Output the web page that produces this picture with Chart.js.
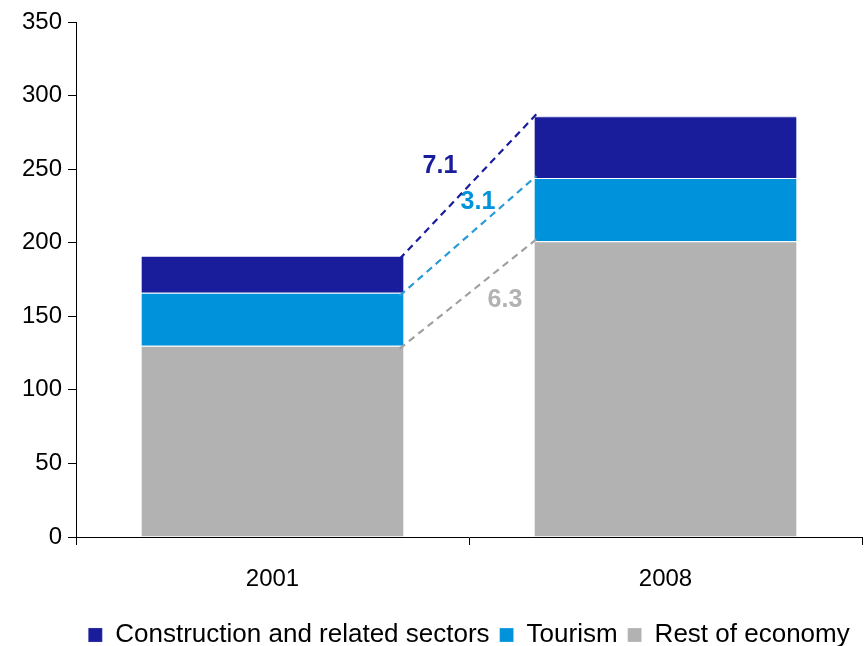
<!DOCTYPE html>
<html>
<head>
<meta charset="utf-8">
<script src="https://cdn.jsdelivr.net/npm/chart.js@4/dist/chart.umd.min.js"></script>
<style>
  html, body { margin: 0; padding: 0; background: #fff; }
  #wrap { width: 868px; height: 646px; position: relative; }
</style>
</head>
<body>
<div id="wrap"><canvas id="c" width="868" height="646"></canvas></div>
<script>
// Employment base by sector, stacked per year
const years = ['2001', '2008'];
const restOfEconomy = [130, 201];
const tourism = [36, 43];
const construction = [25, 42];
// Annual growth rates (%) between the two years
const growthRest = 6.3;
const growthTourism = 3.1;
const growthConstruction = 7.1;
const yTicks = [0, 50, 100, 150, 200, 250, 300, 350];

const COL_CONS = '#1a1d9b';
const COL_TOUR = '#0093dc';
const COL_REST = '#b2b2b2';
const FONT = '"Liberation Sans", Arial, sans-serif';

// Dashed connectors between the segment tops of the two bars, with growth labels
const connectorPlugin = {
  id: 'connectors',
  afterDatasetsDraw(chart) {
    const ctx = chart.ctx;
    const specs = [
      { ds: 0, color: '#a0a0a0', text: growthRest.toFixed(1), tcolor: '#b2b2b2', dx: 36, dy: 7 },
      { ds: 1, color: '#2a9ad6', text: growthTourism.toFixed(1), tcolor: COL_TOUR, dx: 9, dy: -33 },
      { ds: 2, color: COL_CONS, text: growthConstruction.toFixed(1), tcolor: COL_CONS, dx: -29, dy: -20 }
    ];
    specs.forEach(s => {
      const els = chart.getDatasetMeta(s.ds).data;
      const a = els[0], b = els[1];
      const x1 = a.x + a.width / 2, y1 = a.y;
      const x2 = b.x - b.width / 2, y2 = b.y;
      ctx.save();
      ctx.strokeStyle = s.color;
      ctx.lineWidth = 2.2;
      ctx.setLineDash([7, 5]);
      ctx.beginPath();
      ctx.moveTo(x1 - 4, y1 + 3);
      ctx.lineTo(x2 + 2, y2 - 2);
      ctx.stroke();
      ctx.setLineDash([]);
      ctx.fillStyle = s.tcolor;
      ctx.font = 'bold 25px ' + FONT;
      ctx.textAlign = 'center';
      ctx.textBaseline = 'middle';
      ctx.fillText(s.text, (x1 + x2) / 2 + s.dx, (y1 + y2) / 2 + s.dy);
      ctx.restore();
    });
  }
};

const segBorder = { top: 1, left: 0, right: 0, bottom: 0 };

new Chart(document.getElementById('c'), {
  type: 'bar',
  data: {
    labels: years,
    datasets: [
      { label: 'Rest of economy', data: restOfEconomy, backgroundColor: COL_REST,
        borderWidth: segBorder, borderColor: '#ffffff', borderSkipped: false },
      { label: 'Tourism', data: tourism, backgroundColor: COL_TOUR,
        borderWidth: segBorder, borderColor: '#ffffff', borderSkipped: false },
      { label: 'Construction and related sectors', data: construction, backgroundColor: COL_CONS,
        borderWidth: segBorder, borderColor: '#c8c8e8', borderSkipped: false }
    ]
  },
  options: {
    responsive: false,
    animation: false,
    datasets: { bar: { categoryPercentage: 0.667, barPercentage: 1.0 } },
    layout: { padding: { top: 22, right: 6, left: 0, bottom: -12 } },
    scales: {
      x: {
        stacked: true,
        grid: { drawOnChartArea: false, drawTicks: true, tickLength: 8, color: '#000', offset: true },
        border: { color: '#000', width: 1 },
        ticks: { color: '#000', font: { size: 24, family: FONT }, padding: 20 },
        afterFit(s) { s.height = 75; }
      },
      y: {
        stacked: true,
        min: 0,
        max: 350,
        afterBuildTicks(s) { s.ticks = yTicks.map(v => ({ value: v })); },
        grid: { drawOnChartArea: false, drawTicks: true, tickLength: 8, color: '#000' },
        border: { color: '#000', width: 1 },
        ticks: { color: '#000', font: { size: 24, family: FONT }, padding: 6 },
        afterFit(s) { s.width = 76; }
      }
    },
    plugins: {
      legend: {
        position: 'bottom',
        fullSize: false,
        reverse: true,
        labels: {
          color: '#000',
          boxWidth: 14,
          boxHeight: 14,
          padding: 10,
          font: { size: 26, family: FONT }
        }
      },
      tooltip: { enabled: false }
    }
  },
  plugins: [connectorPlugin]
});
</script>
</body>
</html>
